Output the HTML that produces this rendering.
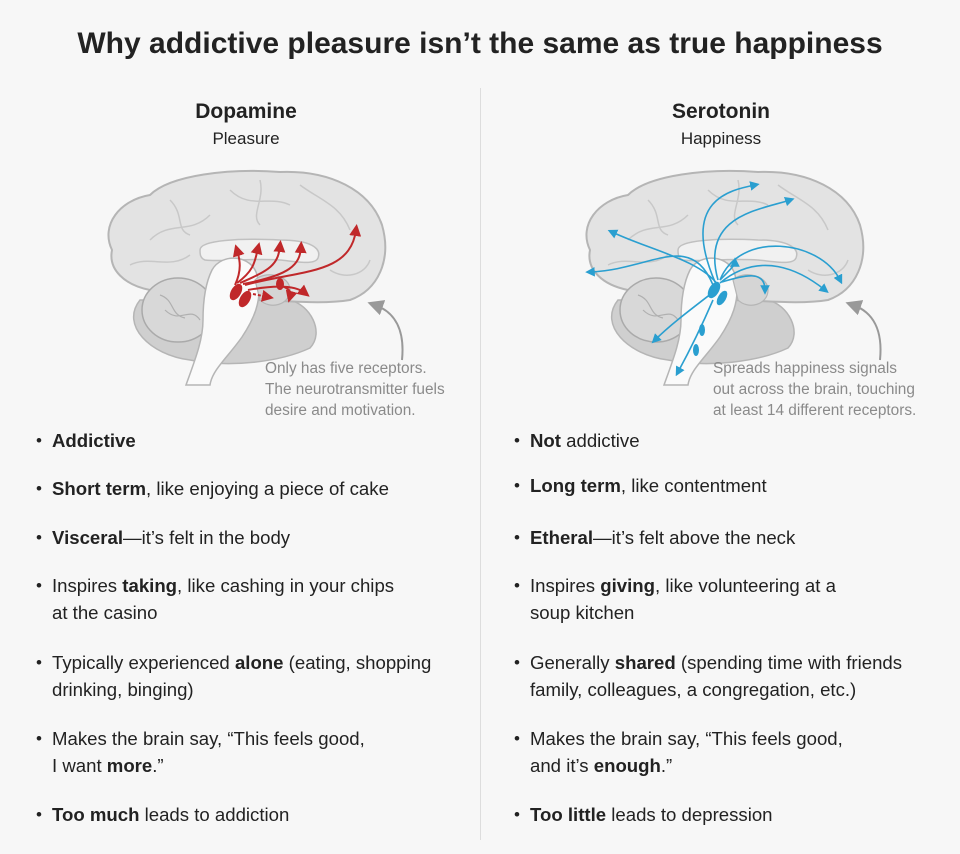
<!DOCTYPE html>
<html><head><meta charset="utf-8"><style>
body{margin:0;width:960px;height:854px;background:#f7f7f7;font-family:"Liberation Sans",Arial,sans-serif;color:#222;position:relative;overflow:hidden}
.a{position:absolute;white-space:nowrap}
h1{position:absolute;top:27px;left:0;width:960px;text-align:center;margin:0;font-size:30px;font-weight:bold;color:#222}
.h{font-weight:bold;font-size:21px;text-align:center;width:300px}
.s{font-size:17px;text-align:center;width:300px}
.n{font-size:15.4px;color:#8a8a8a;line-height:21px}
.b{font-size:18.6px;line-height:27px}
.b:before{content:"•";position:absolute;left:-16px;font-size:17px}
</style></head><body>
<h1>Why addictive pleasure isn’t the same as true happiness</h1>
<div class="a" style="left:480px;top:88px;width:1px;height:752px;background:#ddd"></div>
<div class="a h" style="left:96px;top:100px">Dopamine</div>
<div class="a s" style="left:96px;top:129px">Pleasure</div>
<div class="a h" style="left:571px;top:100px">Serotonin</div>
<div class="a s" style="left:571px;top:129px">Happiness</div>
<svg class="a" style="left:0;top:0" width="960" height="430">
<defs><g id="brain">
<path d="M140,300 C120,325 150,355 190,360 C230,368 280,362 310,348 C325,332 310,305 290,300 Z" fill="#cfcfcf" stroke="#b5b5b5" stroke-width="1.5"/>
<path d="M112,250 C100,225 120,200 150,195 C170,175 230,168 280,172 C330,170 370,190 382,225 C392,260 378,290 350,300 C320,305 280,300 250,300 C220,300 180,298 150,290 C125,285 108,270 112,250 Z" fill="#e3e3e3" stroke="#b5b5b5" stroke-width="2"/>
<path d="M200,250 C200,240 240,238 280,240 C310,240 322,248 318,258 C315,265 300,262 280,260 C250,258 220,262 205,260 C200,258 200,254 200,250 Z" fill="#f1f1f1" stroke="#c0c0c0" stroke-width="1.5"/>
<path d="M150,240 C170,220 190,235 210,215 M230,190 C250,210 270,195 290,205 M300,185 C320,200 340,205 350,230 M130,265 C150,255 170,270 190,255 M330,270 C345,280 365,275 370,260 M170,200 C185,215 175,230 190,235 M260,180 C265,200 250,215 260,225" fill="none" stroke="#c8c8c8" stroke-width="1.5"/>
<ellipse cx="178" cy="310" rx="36" ry="32" fill="#d8d8d8" stroke="#aaa" stroke-width="1.5"/>
<path d="M160,295 C175,300 170,315 185,318 M165,310 C180,325 190,305 200,320" fill="none" stroke="#b0b0b0" stroke-width="1.2"/>
<path d="M212,270 C222,252 252,255 257,275 C264,300 252,322 242,337 C228,357 212,370 210,385 L186,385 C195,360 203,340 203,320 C203,300 206,282 212,270 Z" fill="#fafafa" stroke="#b5b5b5" stroke-width="1.5"/>
<path d="M255,280 C265,270 290,275 290,290 C290,305 270,310 260,300 Z" fill="#d5d5d5" stroke="#b5b5b5" stroke-width="1.2"/>
</g>
<marker id="mr" markerWidth="6" markerHeight="6" refX="3" refY="3" orient="auto"><path d="M0,0 L6,3 L0,6 Z" fill="#c0282a"/></marker>
<marker id="mb" markerWidth="6" markerHeight="6" refX="3" refY="3" orient="auto"><path d="M0,0 L6,3 L0,6 Z" fill="#2a9fd0"/></marker>
<marker id="mg" markerWidth="8" markerHeight="8" refX="4" refY="4" orient="auto"><path d="M0,0 L8,4 L0,8 Z" fill="#999"/></marker>
</defs>
<use href="#brain"/>
<use href="#brain" transform="translate(478,0)"/>
<g fill="none" stroke="#c0282a" stroke-width="2" marker-end="url(#mr)">
<path d="M235,285 C242,270 240,260 237,250"/>
<path d="M237,283 C255,270 255,260 258,248"/>
<path d="M240,283 C270,270 278,265 280,246"/>
<path d="M243,284 C290,275 300,265 301,247"/>
<path d="M245,285 C300,270 350,275 356,230"/>
<path d="M248,290 C275,285 295,285 305,293"/>
<path d="M253,294 L268,297" stroke-dasharray="3,2"/>
<path d="M280,285 C287,288 292,290 290,297"/>
</g>
<ellipse cx="236" cy="292" rx="5" ry="9" fill="#c0282a" transform="rotate(30 236 292)"/>
<ellipse cx="245" cy="299" rx="5" ry="9" fill="#c0282a" transform="rotate(30 245 299)"/>
<ellipse cx="280" cy="284" rx="4" ry="6" fill="#c0282a"/>
<g fill="none" stroke="#2a9fd0" stroke-width="1.6" marker-end="url(#mb)">
<path d="M713,285 C690,230 650,270 590,272"/>
<path d="M715,282 C680,200 730,190 755,185"/>
<path d="M718,280 C700,215 760,210 790,200"/>
<path d="M720,280 C740,230 820,240 840,280"/>
<path d="M720,283 C760,250 800,270 825,290"/>
<path d="M716,290 C690,310 670,325 655,340"/>
<path d="M713,300 C700,330 690,350 678,372"/>
<path d="M720,280 C730,270 735,265 735,262"/>
<path d="M722,282 C745,275 765,270 765,290"/>
<path d="M718,285 C700,260 650,250 612,232"/>
</g>
<ellipse cx="714" cy="290" rx="5" ry="9" fill="#2a9fd0" transform="rotate(30 714 290)"/>
<ellipse cx="722" cy="298" rx="4" ry="8" fill="#2a9fd0" transform="rotate(30 722 298)"/>
<ellipse cx="702" cy="330" rx="3" ry="6" fill="#2a9fd0"/>
<ellipse cx="696" cy="350" rx="3" ry="6" fill="#2a9fd0"/>
<path d="M402,360 C405,330 395,312 375,305" fill="none" stroke="#999" stroke-width="2" marker-end="url(#mg)"/>
<path d="M880,360 C883,330 873,312 853,305" fill="none" stroke="#999" stroke-width="2" marker-end="url(#mg)"/>
</svg>
<div class="a n" style="left:265px;top:358px">Only has five receptors.<br>The neurotransmitter fuels<br>desire and motivation.</div>
<div class="a n" style="left:713px;top:358px">Spreads happiness signals<br>out across the brain, touching<br>at least 14 different receptors.</div>

<div class="a b" style="left:52px;top:427px"><b>Addictive</b></div>
<div class="a b" style="left:52px;top:475px"><b>Short term</b>, like enjoying a piece of cake</div>
<div class="a b" style="left:52px;top:524px"><b>Visceral</b>—it’s felt in the body</div>
<div class="a b" style="left:52px;top:572px">Inspires <b>taking</b>, like cashing in your chips<br>at the casino</div>
<div class="a b" style="left:52px;top:649px">Typically experienced <b>alone</b> (eating, shopping<br>drinking, binging)</div>
<div class="a b" style="left:52px;top:725px">Makes the brain say, “This feels good,<br>I want <b>more</b>.”</div>
<div class="a b" style="left:52px;top:801px"><b>Too much</b> leads to addiction</div>

<div class="a b" style="left:530px;top:427px"><b>Not</b> addictive</div>
<div class="a b" style="left:530px;top:472px"><b>Long term</b>, like contentment</div>
<div class="a b" style="left:530px;top:524px"><b>Etheral</b>—it’s felt above the neck</div>
<div class="a b" style="left:530px;top:572px">Inspires <b>giving</b>, like volunteering at a<br>soup kitchen</div>
<div class="a b" style="left:530px;top:649px">Generally <b>shared</b> (spending time with friends<br>family, colleagues, a congregation, etc.)</div>
<div class="a b" style="left:530px;top:725px">Makes the brain say, “This feels good,<br>and it’s <b>enough</b>.”</div>
<div class="a b" style="left:530px;top:801px"><b>Too little</b> leads to depression</div>
</body></html>
